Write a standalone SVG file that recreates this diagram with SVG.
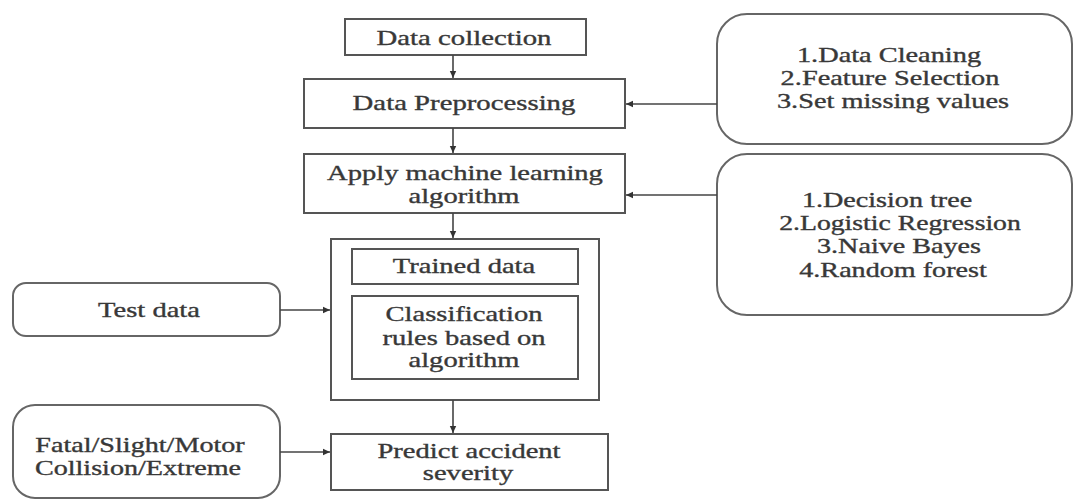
<svg xmlns="http://www.w3.org/2000/svg" width="1074" height="501" viewBox="0 0 1074 501">
<style>
.box{fill:#fff;stroke:#555;stroke-width:2}
.rbox{fill:#fff;stroke:#666;stroke-width:2}
.t{font-family:"Liberation Serif","Times New Roman",serif;font-size:21px;fill:#383838;stroke:#383838;stroke-width:0.35;text-anchor:middle}
.c{fill:none;stroke:#444;stroke-width:1.6}
</style>
<defs>
<marker id="ah" markerUnits="userSpaceOnUse" markerWidth="8" markerHeight="8" refX="7" refY="4" orient="auto">
<path d="M0,0.8 L7,4 L0,7.2 Z" fill="#333"/>
</marker>
</defs>
<rect width="1074" height="501" fill="#fff"/>

<g id="data-collection">
<rect class="box" x="345" y="19" width="241" height="36"/>
<text class="t" transform="matrix(1.37 0 0 1 464 45)">Data collection</text>
</g>

<g id="data-preprocessing">
<rect class="box" x="304" y="79" width="321" height="49"/>
<text class="t" transform="matrix(1.37 0 0 1 464 110)">Data Preprocessing</text>
</g>

<g id="apply-ml">
<rect class="box" x="304" y="154" width="321" height="59"/>
<text class="t" transform="matrix(1.36 0 0 1 465 180)">Apply machine learning</text>
<text class="t" transform="matrix(1.36 0 0 1 464 203)">algorithm</text>
</g>

<g id="preprocessing-steps">
<rect class="rbox" x="717" y="14" width="355" height="130" rx="30" ry="30"/>
<text class="t" transform="matrix(1.35 0 0 1 889 62)">1.Data Cleaning</text>
<text class="t" transform="matrix(1.35 0 0 1 890 85)">2.Feature Selection</text>
<text class="t" transform="matrix(1.35 0 0 1 893 108)">3.Set missing values</text>
</g>

<g id="algorithms">
<rect class="rbox" x="717" y="154" width="355" height="161" rx="30" ry="30"/>
<text class="t" transform="matrix(1.34 0 0 1 887 207)">1.Decision tree</text>
<text class="t" transform="matrix(1.32 0 0 1 900 230)">2.Logistic Regression</text>
<text class="t" transform="matrix(1.34 0 0 1 899 253)">3.Naive Bayes</text>
<text class="t" transform="matrix(1.34 0 0 1 893 277)">4.Random forest</text>
</g>

<g id="model">
<rect class="box" x="331" y="239" width="268" height="161"/>
<g id="trained-data">
<rect class="box" x="352" y="249" width="226" height="35"/>
<text class="t" transform="matrix(1.36 0 0 1 464 273)">Trained data</text>
</g>
<g id="classification-rules">
<rect class="box" x="352" y="296" width="226" height="83"/>
<text class="t" transform="matrix(1.36 0 0 1 464 321)">Classification</text>
<text class="t" transform="matrix(1.36 0 0 1 464 345)">rules based on</text>
<text class="t" transform="matrix(1.36 0 0 1 464 367)">algorithm</text>
</g>
</g>

<g id="test-data">
<rect class="rbox" x="13" y="283" width="267" height="53" rx="13" ry="13"/>
<text class="t" transform="matrix(1.36 0 0 1 149 317)">Test data</text>
</g>

<g id="severity-classes">
<rect class="rbox" x="13" y="405" width="267" height="93" rx="22" ry="22"/>
<text class="t" transform="matrix(1.34 0 0 1 140 452)">Fatal/Slight/Motor</text>
<text class="t" transform="matrix(1.34 0 0 1 138 475)">Collision/Extreme</text>
</g>

<g id="predict">
<rect class="box" x="331" y="434" width="277" height="56"/>
<text class="t" transform="matrix(1.36 0 0 1 469 458)">Predict accident</text>
<text class="t" transform="matrix(1.36 0 0 1 468 480)">severity</text>
</g>

<g id="connectors">
<line class="c" x1="453" y1="55" x2="453" y2="78" marker-end="url(#ah)"/>
<line class="c" x1="453" y1="128" x2="453" y2="153" marker-end="url(#ah)"/>
<line class="c" x1="453" y1="213" x2="453" y2="238" marker-end="url(#ah)"/>
<line class="c" x1="453" y1="400" x2="453" y2="433" marker-end="url(#ah)"/>
<line class="c" x1="717" y1="104" x2="626" y2="104" marker-end="url(#ah)"/>
<line class="c" x1="717" y1="195" x2="626" y2="195" marker-end="url(#ah)"/>
<line class="c" x1="280" y1="310" x2="330" y2="310" marker-end="url(#ah)"/>
<line class="c" x1="280" y1="452" x2="330" y2="452" marker-end="url(#ah)"/>
</g>
</svg>
